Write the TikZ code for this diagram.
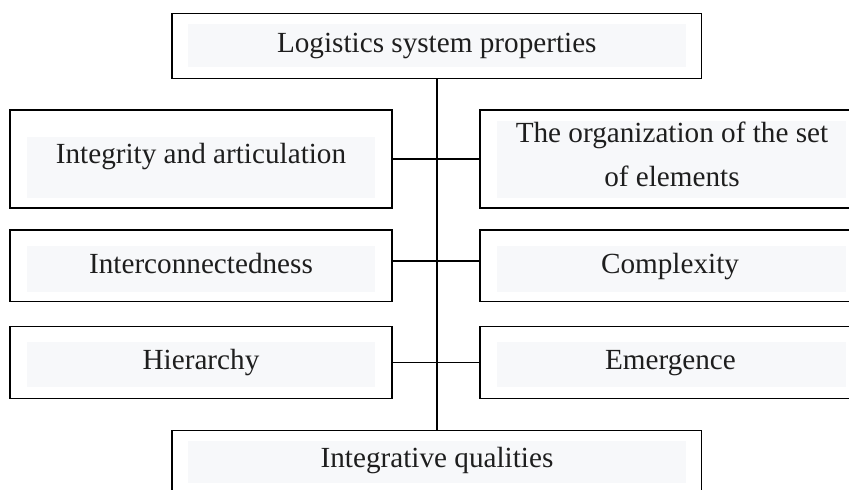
\documentclass[tikz,border=0pt]{standalone}
\usepackage{fontspec}
\setmainfont{Liberation Serif}
\definecolor{innergray}{RGB}{247,248,250}
\definecolor{txt}{RGB}{30,30,30}
\begin{document}
\begin{tikzpicture}[x=1pt,y=-1pt,
  box/.style={draw=black,line width=1.5pt,rectangle,inner sep=0pt},
  inner/.style={fill=innergray},
  lbl/.style={text=txt,inner sep=0pt,anchor=base,font=\fontsize{29.2}{43.7}\selectfont,align=center},
  conn/.style={draw=black,line width=1.5pt}]
\useasboundingbox (0,0) rectangle (849,490);
\clip (0,0) rectangle (849,490);
% inner gray panels
\fill[inner] (188.3,24) rectangle (685.7,66.7);
\fill[inner] (26.7,136.7) rectangle (375,197.5);
\fill[inner] (497,121) rectangle (845.7,197.5);
\fill[inner] (26.7,245.7) rectangle (375,291.7);
\fill[inner] (497,245.7) rectangle (845.7,291.7);
\fill[inner] (26.7,342.3) rectangle (375,387.3);
\fill[inner] (497,342.3) rectangle (845.7,387.3);
\fill[inner] (188.3,441) rectangle (685.7,483);
% boxes
\node[box,minimum width=529.7pt,minimum height=65pt] (top) at (436.85,45.8) {};
\node[box,minimum width=382pt,minimum height=98pt] (l1) at (201,159) {};
\node[box,minimum width=382pt,minimum height=98pt] (r1) at (671,159) {};
\node[box,minimum width=382pt,minimum height=71.7pt] (l2) at (201,265.85) {};
\node[box,minimum width=382pt,minimum height=71.7pt] (r2) at (671,265.85) {};
\node[box,minimum width=382pt,minimum height=71.8pt] (l3) at (201,362.4) {};
\node[box,minimum width=382pt,minimum height=71.8pt] (r3) at (671,362.4) {};
\node[box,minimum width=529.7pt,minimum height=64.3pt] (bot) at (436.85,462.85) {};
% labels
\node[lbl] (ttop) at (436.8,52.3) {Logistics system properties};
\node[lbl] (tl1) at (201,163) {Integrity and articulation};
\node[lbl] (tr1) at (672,186) {The organization of the set\\of elements};
\node[lbl] (tl2) at (201,273.3) {Interconnectedness};
\node[lbl] (tr2) at (670,273.3) {Complexity};
\node[lbl] (tl3) at (201,369.3) {Hierarchy};
\node[lbl] (tr3) at (670.5,369.3) {Emergence};
\node[lbl] (tbot) at (437,467.3) {Integrative qualities};
% connectors
\draw[conn] (top.south) -- (bot.north);
\draw[conn] (l1.east) -- (r1.west);
\draw[conn] ([yshift=4.85pt]l2.east) -- ([yshift=4.85pt]r2.west);
\draw[conn] (l3.east) -- (r3.west);
\end{tikzpicture}
\end{document}
